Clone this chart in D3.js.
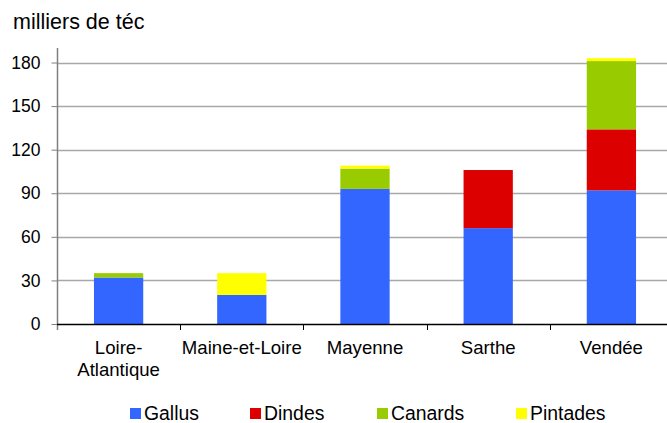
<!DOCTYPE html>
<html>
<head>
<meta charset="utf-8">
<script src="https://cdn.jsdelivr.net/npm/d3@7"></script>
<style>
  body { margin: 0; background: #fff; }
  text { font-family: "Liberation Sans", Arial, sans-serif; fill: #000; }
</style>
</head>
<body>
<div id="chart"></div>
<script>
// data (milliers de téc)
var departements = ["Loire-Atlantique", "Maine-et-Loire", "Mayenne", "Sarthe", "Vendée"];
var gallus   = [32, 20, 93, 66, 92];
var dindes   = [0, 0, 0, 40, 42];
var canards  = [3, 0, 14, 0, 47];
var pintades = [0, 15, 2, 0, 2];
var especes = ["Gallus", "Dindes", "Canards", "Pintades"];
var couleurs = ["#3366ff", "#dd0000", "#99cc00", "#ffff00"];
var yTicks = [0, 30, 60, 90, 120, 150, 180];

var width = 667, height = 423;
var margin = { top: 48, right: -6, bottom: 99, left: 57 };

var rows = departements.map(function(d, i) {
    return { dep: d, Gallus: gallus[i], Dindes: dindes[i], Canards: canards[i], Pintades: pintades[i] };
});
var series = d3.stack().keys(especes)(rows);

var svg = d3.select("#chart").append("svg")
    .attr("width", width)
    .attr("height", height);

var x = d3.scaleBand()
    .domain(departements)
    .range([margin.left, width - margin.right])
    .paddingInner(0.6)
    .paddingOuter(0.3);

var y = d3.scaleLinear()
    .domain([0, 190])
    .range([height - margin.bottom, margin.top]);

// gridlines
svg.append("g").selectAll("line")
    .data(yTicks.slice(1))
    .enter().append("line")
    .attr("x1", margin.left)
    .attr("x2", width - margin.right)
    .attr("y1", function(d) { return Math.round(y(d)) + 0.5; })
    .attr("y2", function(d) { return Math.round(y(d)) + 0.5; })
    .attr("stroke", "#a8a8a8")
    .attr("stroke-width", 1.3);

// bars
svg.append("g").selectAll("g")
    .data(series)
    .enter().append("g")
    .attr("fill", function(d, i) { return couleurs[i]; })
    .selectAll("rect")
    .data(function(d) { return d; })
    .enter().append("rect")
    .attr("x", function(d) { return x(d.data.dep); })
    .attr("width", x.bandwidth())
    .attr("y", function(d) { return y(d[1]); })
    .attr("height", function(d) { return y(d[0]) - y(d[1]); });

// y axis
var yAxis = svg.append("g")
    .attr("transform", "translate(" + (margin.left + 0.5) + ",0)")
    .call(d3.axisLeft(y).tickValues(yTicks).tickSize(6).tickPadding(11));
yAxis.select(".domain").remove();
yAxis.selectAll(".tick line").attr("stroke", "#808080");
yAxis.selectAll("text").attr("font-size", "17.5px").style("font-family", "Liberation Sans, Arial, sans-serif");
svg.append("line")
    .attr("x1", margin.left + 0.5).attr("x2", margin.left + 0.5)
    .attr("y1", margin.top).attr("y2", y(0) + 6)
    .attr("stroke", "#808080").attr("stroke-width", 1.5);

// x axis line and ticks between categories
var x0 = y(0);
svg.append("line")
    .attr("x1", margin.left).attr("x2", width)
    .attr("y1", x0 + 0.5).attr("y2", x0 + 0.5)
    .attr("stroke", "#000").attr("stroke-width", 1.3);
var step = x.step();
svg.append("g").selectAll("line")
    .data(departements.slice(1))
    .enter().append("line")
    .attr("x1", function(d) { return Math.round(x(d) - x.paddingInner() * step / 2) + 0.5; })
    .attr("x2", function(d) { return Math.round(x(d) - x.paddingInner() * step / 2) + 0.5; })
    .attr("y1", x0).attr("y2", x0 + 6)
    .attr("stroke", "#000");

// category labels (Loire-Atlantique wraps on two lines)
var labels = svg.append("g").selectAll("text")
    .data(departements)
    .enter().append("text")
    .attr("x", function(d) { return x(d) + x.bandwidth() / 2; })
    .attr("y", 354)
    .attr("text-anchor", "middle")
    .attr("font-size", "18.6px");
labels.each(function(d) {
    var parts = d === "Loire-Atlantique" ? ["Loire-", "Atlantique"] : [d];
    var t = d3.select(this);
    parts.forEach(function(p, i) {
        t.append("tspan")
            .attr("x", x(d) + x.bandwidth() / 2)
            .attr("dy", i === 0 ? 0 : 22)
            .text(p);
    });
});

// unit title
svg.append("text")
    .attr("x", 13)
    .attr("y", 29)
    .attr("font-size", "21.5px")
    .text("milliers de téc");

// legend
var legendX = [130, 250, 377, 516];
var legend = svg.append("g").selectAll("g")
    .data(especes)
    .enter().append("g")
    .attr("transform", function(d, i) { return "translate(" + legendX[i] + ",408)"; });
legend.append("rect")
    .attr("width", 11)
    .attr("height", 11)
    .attr("fill", function(d, i) { return couleurs[i]; });
legend.append("text")
    .attr("x", 14)
    .attr("y", 11.5)
    .attr("font-size", "19.4px")
    .text(function(d) { return d; });
</script>
</body>
</html>
